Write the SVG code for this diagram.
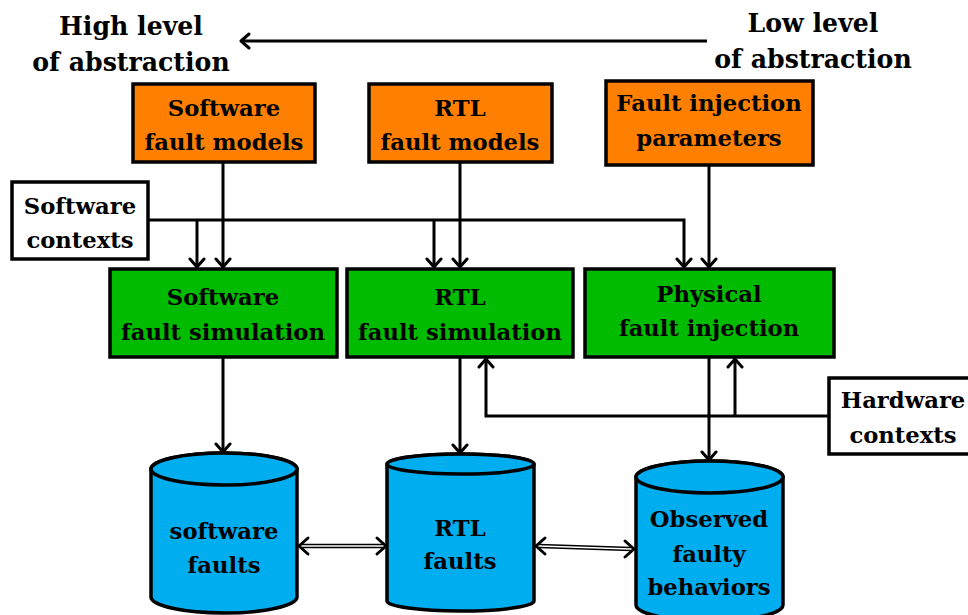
<svg xmlns="http://www.w3.org/2000/svg" width="968" height="615" viewBox="0 0 968 615">
<defs>
<style>
text{font-family:"DejaVu Serif","Liberation Serif",serif;font-weight:bold;fill:#000;text-anchor:middle}
.t{font-size:22.7px}
.h{font-size:25.2px}
.box{stroke:#000;stroke-width:3.5}
.org{fill:#ff8000}
.grn{fill:#00bb00}
.wht{fill:#fff}
.cyl{fill:#00adef;stroke:#000;stroke-width:3.5}
.ln{fill:none;stroke:#000;stroke-width:3}
.dbl{fill:none;stroke:#000;stroke-width:1.3}
.chev{fill:none;stroke:#000;stroke-width:3;stroke-linecap:round;stroke-linejoin:round}
</style>
<marker id="ah" viewBox="-2 -9 12 18" refX="8" refY="0" markerWidth="12" markerHeight="18" markerUnits="userSpaceOnUse" orient="auto">
<path d="M0,-7 L8,0 L0,7" fill="none" stroke="#000" stroke-width="3" stroke-linecap="round" stroke-linejoin="round"/>
</marker>
</defs>
<rect width="968" height="615" fill="#fff"/>

<g id="label-high">
<text class="h" x="131" y="35">High level</text>
<text class="h" x="131" y="71">of abstraction</text>
</g>
<g id="label-low">
<text class="h" x="813" y="32">Low level</text>
<text class="h" x="813" y="68">of abstraction</text>
</g>

<g id="connectors">
<line class="ln" x1="707" y1="41" x2="241" y2="41" marker-end="url(#ah)"/>
<line class="ln" x1="223" y1="162" x2="223" y2="267" marker-end="url(#ah)"/>
<line class="ln" x1="460" y1="162" x2="460" y2="267" marker-end="url(#ah)"/>
<line class="ln" x1="709" y1="165" x2="709" y2="267" marker-end="url(#ah)"/>
<polyline class="ln" points="148,220 684,220 684,267" marker-end="url(#ah)"/>
<line class="ln" x1="197" y1="220" x2="197" y2="267" marker-end="url(#ah)"/>
<line class="ln" x1="434" y1="220" x2="434" y2="267" marker-end="url(#ah)"/>
<line class="ln" x1="223" y1="357" x2="223" y2="452" marker-end="url(#ah)"/>
<line class="ln" x1="460" y1="357" x2="460" y2="453" marker-end="url(#ah)"/>
<line class="ln" x1="709" y1="357" x2="709" y2="460" marker-end="url(#ah)"/>
<polyline class="ln" points="829,416 486,416 486,359" marker-end="url(#ah)"/>
<line class="ln" x1="735" y1="416" x2="735" y2="359" marker-end="url(#ah)"/>
<line class="dbl" x1="302" y1="544.5" x2="383" y2="544.5"/>
<line class="dbl" x1="302" y1="547.5" x2="383" y2="547.5"/>
<path class="chev" d="M308,538 L299,546 L308,554"/>
<path class="chev" d="M377,538 L386,546 L377,554"/>
<line class="dbl" x1="539" y1="544.5" x2="631" y2="547.5"/>
<line class="dbl" x1="539" y1="547.5" x2="631" y2="550.5"/>
<path class="chev" d="M545,538 L536,546 L545,554"/>
<path class="chev" d="M625,541 L634,549 L625,557"/>
</g>

<g id="sw-fault-models">
<rect class="box org" x="133" y="84" width="182" height="78"/>
<text class="t" x="224" y="116">Software</text>
<text class="t" x="224" y="150">fault models</text>
</g>
<g id="rtl-fault-models">
<rect class="box org" x="369" y="84" width="183" height="78"/>
<text class="t" x="460" y="116">RTL</text>
<text class="t" x="460" y="150">fault models</text>
</g>
<g id="fi-params">
<rect class="box org" x="606" y="81" width="207" height="84"/>
<text class="t" x="709" y="111">Fault injection</text>
<text class="t" x="709" y="146">parameters</text>
</g>

<g id="sw-contexts">
<rect class="box wht" x="12" y="182" width="136" height="77"/>
<text class="t" x="80" y="214">Software</text>
<text class="t" x="80" y="248">contexts</text>
</g>

<g id="sw-sim">
<rect class="box grn" x="110" y="269" width="227" height="88"/>
<text class="t" x="223" y="305">Software</text>
<text class="t" x="223" y="340">fault simulation</text>
</g>
<g id="rtl-sim">
<rect class="box grn" x="347" y="269" width="226" height="88"/>
<text class="t" x="460" y="305">RTL</text>
<text class="t" x="460" y="340">fault simulation</text>
</g>
<g id="phys-inj">
<rect class="box grn" x="585" y="269" width="249" height="88"/>
<text class="t" x="709" y="302">Physical</text>
<text class="t" x="709" y="336">fault injection</text>
</g>

<g id="hw-contexts">
<rect class="box wht" x="829" y="378" width="142" height="76"/>
<text class="t" x="903" y="408">Hardware</text>
<text class="t" x="903" y="443">contexts</text>
</g>

<g id="sw-faults">
<path class="cyl" d="M151,469 A73,16 0 0 1 297,469 L297,597 A73,16 0 0 1 151,597 Z"/>
<ellipse class="cyl" cx="224" cy="469" rx="73" ry="16"/>
<text class="t" x="224" y="539">software</text>
<text class="t" x="224" y="573">faults</text>
</g>
<g id="rtl-faults">
<path class="cyl" d="M387,464 A73.5,10 0 0 1 534,464 L534,601 A73.5,10 0 0 1 387,601 Z"/>
<ellipse class="cyl" cx="460.5" cy="464" rx="73.5" ry="10"/>
<text class="t" x="460" y="536">RTL</text>
<text class="t" x="460" y="569">faults</text>
</g>
<g id="observed">
<path class="cyl" d="M636,477 A73.5,16 0 0 1 783,477 L783,605 A73.5,16 0 0 1 636,605 Z"/>
<ellipse class="cyl" cx="709.5" cy="477" rx="73.5" ry="16"/>
<text class="t" x="709" y="527">Observed</text>
<text class="t" x="709" y="562">faulty</text>
<text class="t" x="709" y="595">behaviors</text>
</g>
</svg>
